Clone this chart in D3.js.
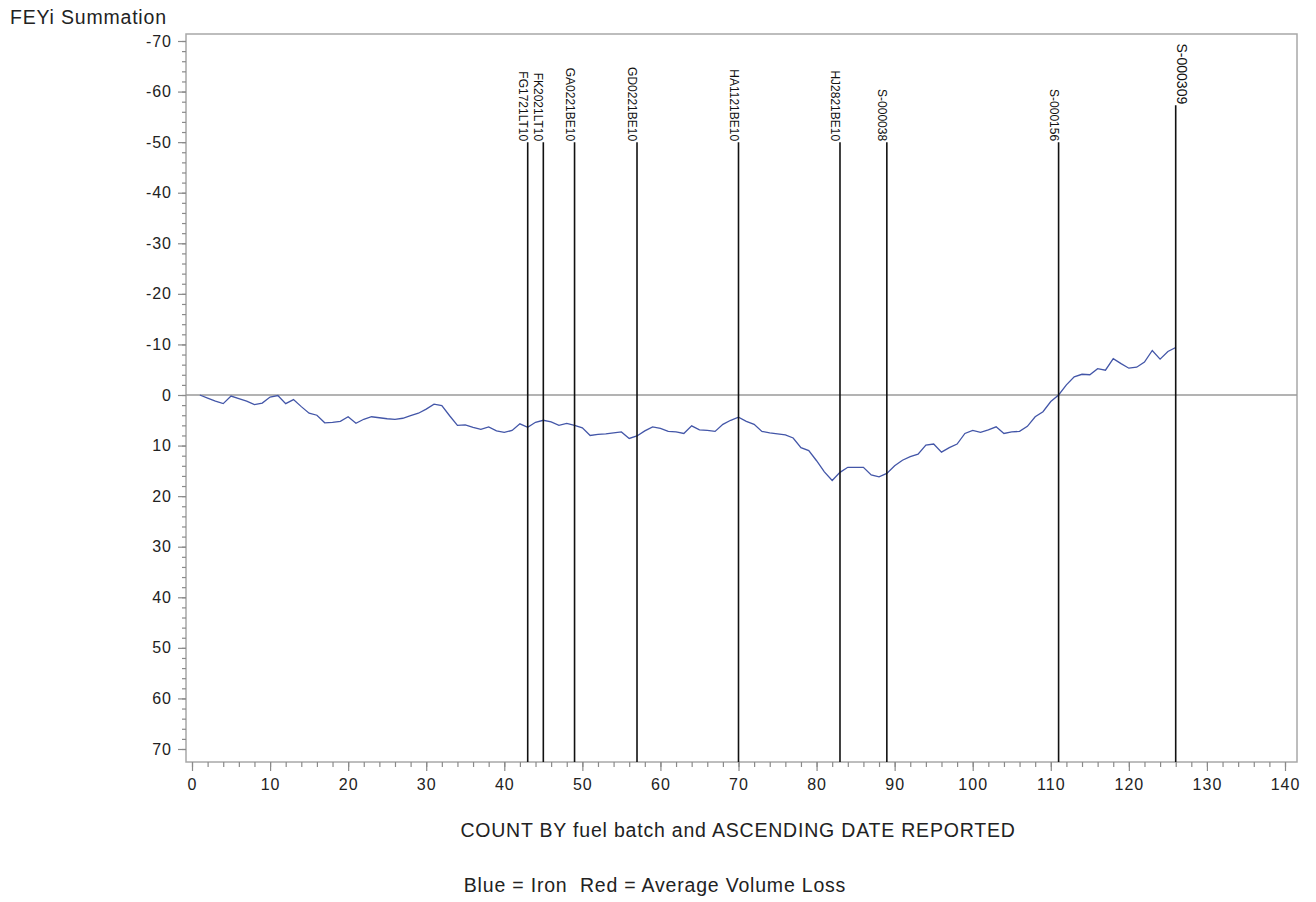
<!DOCTYPE html>
<html>
<head>
<meta charset="utf-8">
<script src="https://cdn.jsdelivr.net/npm/d3@7"></script>
<style>
  body { margin: 0; background: #fff; }
  text { font-family: "Liberation Sans", Arial, sans-serif; }
</style>
</head>
<body>
<div id="chart"></div>
<script>
// FEYi summation, one value per fuel batch count (1..126)
const feyi = [
  0, 0.6, 1.2, 1.7, 0.2, 0.7, 1.2, 1.9, 1.6, 0.4,
  0.1, 1.7, 0.9, 2.3, 3.6, 4.0, 5.5, 5.4, 5.2, 4.3,
  5.6, 4.8, 4.3, 4.5, 4.7, 4.8, 4.6, 4.1, 3.6, 2.8,
  1.8, 2.1, 4.1, 6.0, 5.9, 6.4, 6.8, 6.3, 7.1, 7.4,
  7.0, 5.7, 6.4, 5.4, 5.0, 5.3, 6.0, 5.6, 6.0, 6.5,
  8.0, 7.8, 7.7, 7.5, 7.3, 8.6, 8.1, 7.1, 6.3, 6.6,
  7.2, 7.3, 7.6, 6.1, 6.9, 7.0, 7.2, 5.8, 5.0, 4.4,
  5.2, 5.8, 7.2, 7.5, 7.7, 7.9, 8.5, 10.4, 11.0, 13.0,
  15.2, 16.9, 15.3, 14.3, 14.3, 14.3, 15.8, 16.2, 15.5, 14.0,
  12.9, 12.2, 11.7, 9.9, 9.7, 11.3, 10.4, 9.7, 7.6, 7.0,
  7.4, 6.9, 6.3, 7.6, 7.3, 7.2, 6.2, 4.3, 3.3, 1.3,
  0, -2.0, -3.6, -4.1, -4.0, -5.2, -4.9, -7.2, -6.2, -5.3,
  -5.5, -6.5, -8.8, -7.1, -8.6, -9.4
]

// reference lines: batch labels, their count and where the line starts
const markerLabels = ["FG1721LT10", "FK2021LT10", "GA0221BE10", "GD0221BE10", "HA1121BE10",
                      "HJ2821BE10", "S-000038", "S-000156", "S-000309"]
const markerCounts = [43, 45, 49, 57, 70, 83, 89, 111, 126]
const markerTops   = [-50, -50, -50, -50, -50, -50, -50, -50, -57.3]

const xTicks = d3.range(0, 141, 10)
const yTicks = d3.range(-70, 71, 10)

const yTitle = "FEYi Summation"
const xTitle = "COUNT BY fuel batch and ASCENDING DATE REPORTED"
const footnote = "Blue = Iron  Red = Average Volume Loss"

const W = 1316, H = 902
const frame = { left: 186, top: 34, right: 1297, bottom: 762 }

const svg = d3.select("#chart").append("svg")
  .attr("width", W)
  .attr("height", H)

const x = d3.scaleLinear([0, 140], [192, 1285])
const y = d3.scaleLinear([-70, 70], [41, 749])

// frame
svg.append("rect")
  .attr("x", frame.left)
  .attr("y", frame.top)
  .attr("width", frame.right - frame.left)
  .attr("height", frame.bottom - frame.top)
  .attr("fill", "none")
  .attr("stroke", "#a8a8a8")
  .attr("stroke-width", 1.5)

// zero line
svg.append("line")
  .attr("x1", frame.left).attr("x2", frame.right)
  .attr("y1", y(0)).attr("y2", y(0))
  .attr("stroke", "#9a9a9a")
  .attr("stroke-width", 1.3)

// axes
function styleAxis(g) {
  g.select(".domain").remove()
  g.selectAll(".tick line").attr("stroke", "#8a8a8a").attr("stroke-width", 1.2)
  g.selectAll(".tick text")
    .attr("fill", "#222")
    .style("font-size", "16px")
    .style("letter-spacing", "1px")
}

svg.append("g")
  .attr("transform", `translate(0,${frame.bottom})`)
  .call(d3.axisBottom(x).tickValues(d3.range(0, 141, 2)).tickSize(5).tickFormat(""))
  .call(styleAxis)
svg.append("g")
  .attr("transform", `translate(0,${frame.bottom})`)
  .call(d3.axisBottom(x).tickValues(xTicks).tickSize(9).tickPadding(8).tickFormat(d => String(d)))
  .call(styleAxis)

svg.append("g")
  .attr("transform", `translate(${frame.left},0)`)
  .call(d3.axisLeft(y).tickValues(d3.range(-70, 71, 2)).tickSize(4).tickFormat(""))
  .call(styleAxis)
svg.append("g")
  .attr("transform", `translate(${frame.left},0)`)
  .call(d3.axisLeft(y).tickValues(yTicks).tickSize(8).tickPadding(6).tickFormat(d => String(d)))
  .call(styleAxis)

// the iron line
const line = d3.line()
  .x((d, i) => x(i + 1))
  .y(d => y(d))

svg.append("path")
  .datum(feyi)
  .attr("d", line)
  .attr("fill", "none")
  .attr("stroke", "#4356a8")
  .attr("stroke-width", 1.3)

// batch reference lines
const markers = markerCounts.map((c, i) => ({ count: c, top: markerTops[i], label: markerLabels[i] }))
const mk = svg.selectAll(".marker")
  .data(markers)
  .join("g")
  .attr("class", "marker")

mk.append("line")
  .attr("x1", d => x(d.count)).attr("x2", d => x(d.count))
  .attr("y1", d => y(d.top))
  .attr("y2", frame.bottom)
  .attr("stroke", "#111")
  .attr("stroke-width", 1.6)

mk.append("text")
  .attr("transform", (d, i) => {
    const last = i == markers.length - 1
    const tx = last ? x(d.count) + 1 : x(d.count) - 9
    return `translate(${tx},${y(d.top) - 1}) rotate(90)`
  })
  .attr("text-anchor", "end")
  .attr("fill", "#111")
  .style("font-size", (d, i) => i == markers.length - 1 ? "14px" : "12px")
  .text(d => d.label)

// titles
function title(txt, tx, ty, anchor) {
  svg.append("text")
    .attr("x", tx).attr("y", ty)
    .attr("text-anchor", anchor)
    .attr("fill", "#222")
    .style("font-size", "19.5px")
    .style("letter-spacing", "0.8px")
    .style("white-space", "pre")
    .text(txt)
}
title(yTitle, 10, 24, "start")
title(xTitle, 738, 837, "middle")
title(footnote, 655, 892, "middle")
</script>
</body>
</html>
